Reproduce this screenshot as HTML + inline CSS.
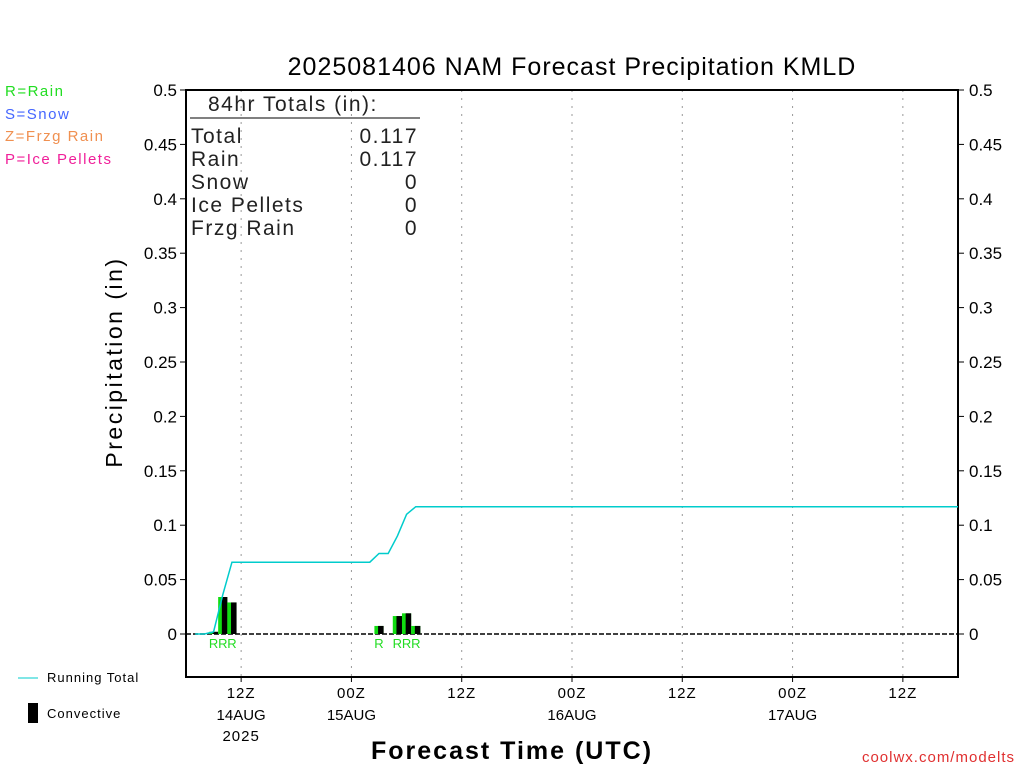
<!DOCTYPE html>
<html><head><meta charset="utf-8"><style>
body{margin:0;background:#fff}
svg text{font-family:"Liberation Sans","DejaVu Sans",sans-serif}
</style></head><body>
<svg id="c" width="1024" height="768" xmlns="http://www.w3.org/2000/svg">
<text x="572" y="75" font-size="25" text-anchor="middle" letter-spacing="1">2025081406 NAM Forecast Precipitation KMLD</text>
<g font-size="15" letter-spacing="1.5">
<text x="5" y="96" fill="#22dd22">R=Rain</text>
<text x="5" y="119" fill="#4466ff">S=Snow</text>
<text x="5" y="141" fill="#f09050">Z=Frzg Rain</text>
<text x="5" y="164" fill="#f0209a">P=Ice Pellets</text>
</g>
<g id="grid"></g><g id="axes"></g><g id="marks"></g>
<g fill="#222" font-size="21" letter-spacing="1.5">
<text x="208" y="111">84hr Totals (in):</text>
<line x1="190" y1="118" x2="420" y2="118" stroke="#000" stroke-width="1"/>
<text x="191" y="143">Total</text><text x="418" y="143" text-anchor="end">0.117</text>
<text x="191" y="166">Rain</text><text x="418" y="166" text-anchor="end">0.117</text>
<text x="191" y="189">Snow</text><text x="418" y="189" text-anchor="end">0</text>
<text x="191" y="212">Ice Pellets</text><text x="418" y="212" text-anchor="end">0</text>
<text x="191" y="235">Frzg Rain</text><text x="418" y="235" text-anchor="end">0</text>
</g>
<text transform="translate(122,362) rotate(-90)" font-size="23" text-anchor="middle" letter-spacing="2.5">Precipitation (in)</text>
<text x="512" y="759" font-size="25" text-anchor="middle" letter-spacing="2" font-weight="bold">Forecast Time (UTC)</text>
<text x="1015" y="762" font-size="15" fill="#e03030" text-anchor="end" letter-spacing="1">coolwx.com/modelts</text>
<g>
<line x1="18" y1="678" x2="38" y2="678" stroke="#00cccc" stroke-width="1"/>
<text x="47" y="682" font-size="13" letter-spacing="1">Running Total</text>
<rect x="28" y="703" width="10" height="20" fill="#000"/>
<text x="47" y="718" font-size="13" letter-spacing="1">Convective</text>
</g>
</svg>
<script>
const yTicks=[0,0.05,0.1,0.15,0.2,0.25,0.3,0.35,0.4,0.45,0.5];
const xTickHours=[6,18,30,42,54,66,78];
const xTickLabels=["12Z","00Z","12Z","00Z","12Z","00Z","12Z"];
const xDateLabels=["14AUG","15AUG","","16AUG","","17AUG",""];
const barHours=[3,4,5,21,23,24,25];
const barValues=[0.002,0.034,0.029,0.0074,0.0165,0.019,0.0074];
const barTypes=["R","R","R","R","R","R","R"];
const totalHours=[1,2,3,4,5,20,21,22,23,24,25,84];
const totalValues=[0,0,0.002,0.036,0.066,0.066,0.074,0.074,0.09,0.11,0.117,0.117];
const L=186,R=958,T=90,B=677;
const X=h=>L+(R-L)*h/84;
const Y=v=>634-v*1088;
const NS="http://www.w3.org/2000/svg";
function mk(p,t,a){const e=document.createElementNS(NS,t);for(const k in a)e.setAttribute(k,a[k]);document.getElementById(p).appendChild(e);return e;}
xTickHours.forEach((h,i)=>{
 const g=mk('grid','line',{x1:X(h),x2:X(h),y1:T,y2:B,stroke:'#999','stroke-dasharray':'2,6'});
 
 
 const t=mk('axes','text',{x:X(h),y:698,'font-size':15,'text-anchor':'middle','letter-spacing':1});t.textContent=xTickLabels[i];
 
 
 if(xDateLabels[i]){const d=mk('axes','text',{x:X(h),y:720,'font-size':15,'text-anchor':'middle'});d.textContent=xDateLabels[i];
 
 }
 mk('axes','line',{x1:X(h),x2:X(h),y1:B,y2:B+5,stroke:'#000'});
});
const yr=mk('axes','text',{x:X(6),y:741,'font-size':15,'text-anchor':'middle','letter-spacing':1});yr.textContent='2025';


yTicks.forEach(v=>{
 const y=Y(v);
 mk('axes','line',{x1:L-6,x2:L,y1:y,y2:y,stroke:'#000'});
 mk('axes','line',{x1:R,x2:R+6,y1:y,y2:y,stroke:'#000'});
 const a=mk('axes','text',{x:L-9,y:y+6,'font-size':17,'text-anchor':'end'});a.textContent=String(v);
 
 
 const b=mk('axes','text',{x:R+11,y:y+6,'font-size':17});b.textContent=String(v);
 
 
});
const box=mk('axes','rect',{x:L,y:T,width:R-L,height:B-T,fill:'none',stroke:'#000','stroke-width':2});


const z=mk('axes','line',{x1:L,x2:R,y1:Y(0),y2:Y(0),stroke:'#000','stroke-dasharray':'5,2','stroke-width':1.5});


const bw=X(1)-X(0);
barHours.forEach((h,i)=>{
 const x0=X(h)-bw/2,y=Y(barValues[i]),hgt=Y(0)-y;
 const g=mk('marks','rect',{x:x0,y:y,width:bw,height:hgt,fill:'#11dd11'});
 
 
 const k=mk('marks','rect',{x:x0+bw*0.4,y:y,width:bw*0.6,height:hgt,fill:'#000'});
 
 
 if(barTypes[i]){const t=mk('marks','text',{x:X(h),y:648,'font-size':13,fill:'#22dd22','text-anchor':'middle'});t.textContent=barTypes[i];
 
 }
});
const pl=mk('marks','polyline',{points:totalHours.map((h,i)=>X(h)+','+Y(totalValues[i])).join(' '),fill:'none',stroke:'#00cccc','stroke-width':1.5});


</script>
</body></html>
